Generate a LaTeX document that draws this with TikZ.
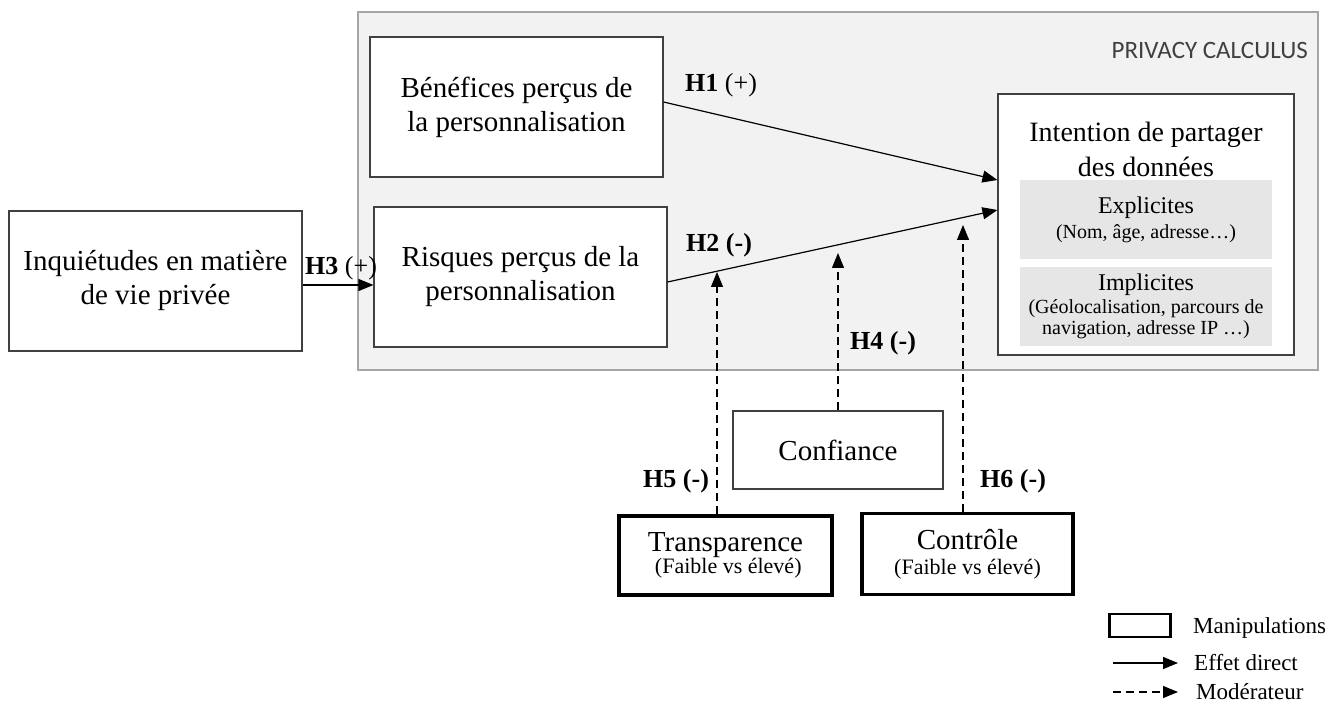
\documentclass[tikz,border=0pt]{standalone}
\usepackage{fontspec}
\setmainfont{Liberation Serif}
\newfontfamily\calfont{Carlito}
\usetikzlibrary{arrows.meta}
\definecolor{calcfill}{HTML}{F2F2F2}
\definecolor{calcdraw}{HTML}{A6A6A6}
\definecolor{subfill}{HTML}{E6E6E6}
\definecolor{boxdraw}{HTML}{404040}
\definecolor{titlegray}{HTML}{404040}
\tikzset{
  mainfont/.style={font=\fontsize{29}{34}\selectfont},
  plainbox/.style={draw=boxdraw, fill=white, line width=1.1pt, inner sep=0pt, align=center, mainfont},
  manipbox/.style={draw=black, fill=white, line width=3.8pt, inner sep=0pt, align=center},
  subbox/.style={draw=none, fill=subfill, inner sep=0pt, align=center},
  hlabel/.style={anchor=west, inner sep=0pt, font=\fontsize{26}{30}\selectfont},
  direct/.style={line width=1.2pt, -{Triangle[length=15pt,width=12pt]}},
  moder/.style={line width=1.2pt, dash pattern=on 8pt off 5pt, -{Triangle[length=15pt,width=12pt]}},
  legtext/.style={anchor=west, inner sep=0pt, font=\fontsize{23}{26}\selectfont}
}
\begin{document}
\begin{tikzpicture}[x=1pt,y=-1pt]
\useasboundingbox (0,0) rectangle (1343,708);

% Privacy calculus frame
\node[draw=calcdraw, fill=calcfill, line width=1.2pt, minimum width=960pt, minimum height=358pt, inner sep=0pt] (calc) at (838,191) {};
\node[anchor=east, inner sep=0pt, text=titlegray, font=\calfont\fontsize{25}{28}\selectfont] (calctitle) at (1308,50) {PRIVACY CALCULUS};

% Main boxes
\node[plainbox, minimum width=293pt, minimum height=140pt] (ben) at (516.5,107) {Bénéfices perçus de\\la personnalisation};
\node[plainbox, minimum width=293pt, minimum height=140pt] (risk) at (520.5,277) {Risques perçus de la\\personnalisation};
\node[plainbox, minimum width=293pt, minimum height=140pt] (inq) at (155.5,281) {Inquiétudes en matière\\de vie privée};

% Intention box
\node[plainbox, minimum width=296pt, minimum height=261pt] (intent) at (1146,224.5) {};
\node[inner sep=0pt, align=center, font=\fontsize{28}{35}\selectfont] (intenttext) at (1146,149) {Intention de partager\\des données};
\node[subbox, minimum width=252pt, minimum height=79pt, font=\fontsize{20}{24}\selectfont] (expl) at (1146,219.5)
  {{\fontsize{24}{26}\selectfont Explicites}\\[1pt](Nom, âge, adresse…)};
\node[subbox, minimum width=252pt, minimum height=79pt, font=\fontsize{20}{21}\selectfont] (impl) at (1146,306.5)
  {{\fontsize{24}{26}\selectfont Implicites}\\[2pt](Géolocalisation, parcours de\\navigation, adresse IP …)};

% Confiance and manipulations
\node[plainbox, minimum width=210pt, minimum height=78pt] (conf) at (838,450) {Confiance};
\node[manipbox, minimum width=213pt, minimum height=79pt] (trans) at (725.5,555.5)
  {\fontsize{29}{22}\selectfont Transparence\\\fontsize{22}{22}\selectfont\ (Faible vs élevé)};
\node[manipbox, minimum width=211pt, minimum height=81pt] (ctrl) at (967.5,554)
  {\fontsize{29}{22}\selectfont Contrôle\\[8pt]\fontsize{22}{22}\selectfont (Faible vs élevé)};

% Direct effects
\draw[direct] ([yshift=5pt]ben.east) -- ([yshift=44.5pt]intent.west);
\draw[direct] ([yshift=-5pt]risk.east) -- ([yshift=14.5pt]intent.west);
\draw[direct] ([yshift=-4pt]inq.east) -- ([yshift=-4pt]inq.east -| risk.west);

% Moderators
\coordinate (h5end) at (717,272);
\coordinate (h4end) at (838,253);
\coordinate (h6end) at (963,225);
\draw[moder] (trans.north -| h5end) -- (h5end);
\draw[moder] (conf.north -| h4end) -- (h4end);
\draw[moder] (ctrl.north -| h6end) -- (h6end);

% Labels
\node[hlabel] (lh1) at (685,85) {\textbf{H1} (+)};
\node[hlabel] (lh2) at (686,245) {\textbf{H2 (-)}};
\node[hlabel] (lh3) at (305,268) {\textbf{H3} (+)};
\node[hlabel] (lh4) at (850,343) {\textbf{H4 (-)}};
\node[hlabel] (lh5) at (643,481) {\textbf{H5 (-)}};
\node[hlabel] (lh6) at (980,481) {\textbf{H6 (-)}};

% Legend
\node[draw=black, line width=2.6pt, minimum width=61pt, minimum height=23pt, inner sep=0pt] (legbox) at (1140,625.5) {};
\node[legtext] (legmanip) at (1193,628) {Manipulations};
\coordinate (ldA) at (1113,663);
\coordinate (ldB) at (1178,663);
\draw[direct] (ldA) -- (ldB);
\node[legtext] (legdirect) at (1194,663) {Effet direct};
\coordinate (lmA) at (1113,692);
\coordinate (lmB) at (1178,692);
\draw[moder] (lmA) -- (lmB);
\node[legtext] (legmod) at (1196,692) {Modérateur};
\end{tikzpicture}
\end{document}
